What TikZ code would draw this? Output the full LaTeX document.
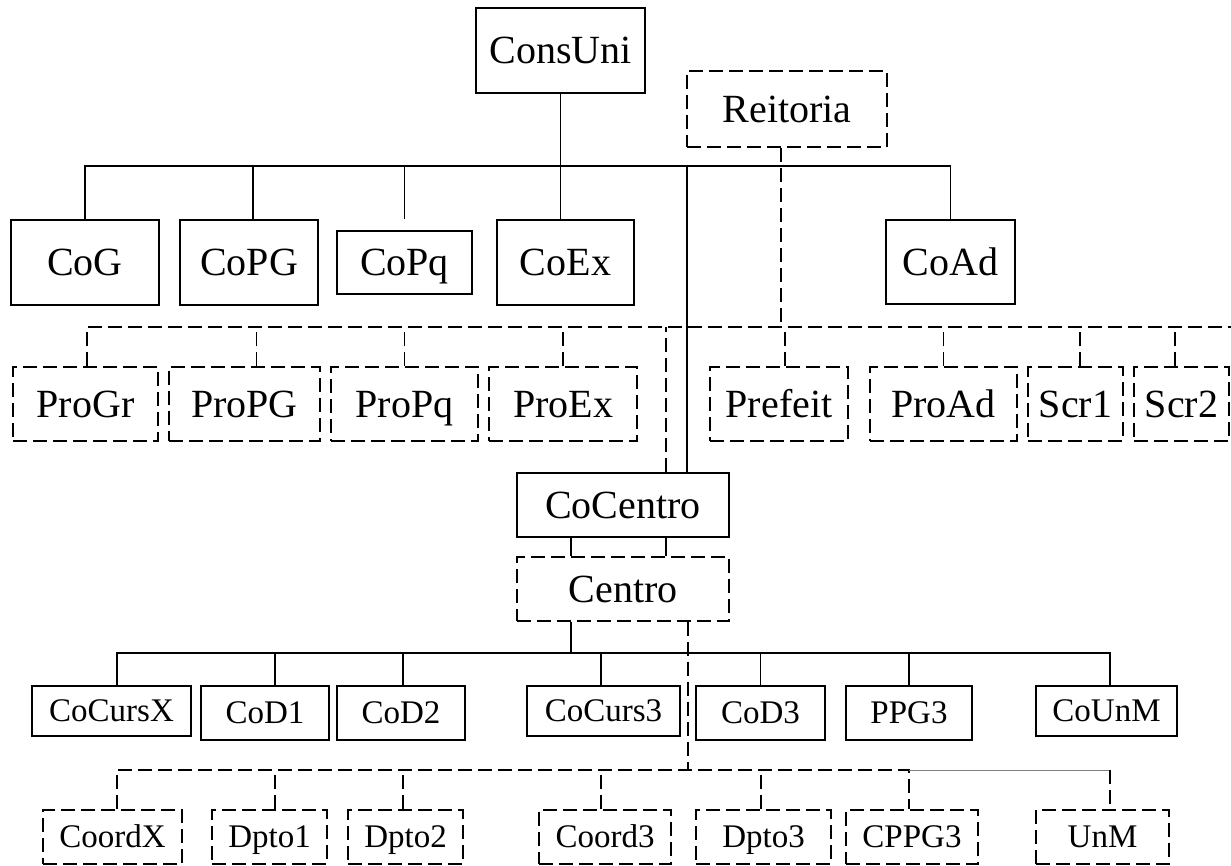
\documentclass[tikz,border=0pt]{standalone}
\usepackage{fontspec}
\setmainfont{Liberation Serif}

\begin{document}
\begin{tikzpicture}[x=1pt,y=-1pt,line width=1.8pt,
                    unit/.style={draw,rectangle,inner sep=0pt,text height=26.5pt,text depth=0pt,
                                 font=\fontsize{40}{44}\selectfont},
                    office/.style={unit,dash pattern=on 14pt off 6pt},
                    sunit/.style={unit,text height=21.8pt,font=\fontsize{33}{36}\selectfont},
                    soffice/.style={office,text height=21.8pt,font=\fontsize{33}{36}\selectfont},
                    dlink/.style={dash pattern=on 14pt off 6pt}]
    \useasboundingbox (0,0) rectangle (1231,866);
    \coordinate (topbar)  at (0,166);
    \coordinate (probar)  at (0,327);
    \coordinate (proend)  at (1231,327);
    \coordinate (centbar) at (0,653);
    \coordinate (deptbar) at (0,770);

    \node [unit, minimum width=169, minimum height=85]   (consuni)  at (560.5,50.5) {ConsUni};
    \node [office, minimum width=200, minimum height=76] (reitoria) at (787,109)    {Reitoria};

    \node [unit, minimum width=148, minimum height=85] (cog)  at (85,262.5)    {CoG};
    \node [unit, minimum width=138, minimum height=85] (copg) at (249,262.5)   {CoPG};
    \node [unit, minimum width=135, minimum height=63] (copq) at (404.5,262.5) {CoPq};
    \node [unit, minimum width=137, minimum height=85] (coex) at (565.5,262.5) {CoEx};
    \node [unit, minimum width=129, minimum height=84] (coad) at (950.5,262)   {CoAd};

    \node [office, minimum width=145, minimum height=74] (progr)   at (85.5,404)   {ProGr};
    \node [office, minimum width=151, minimum height=74] (propg)   at (244.5,404)  {ProPG};
    \node [office, minimum width=147, minimum height=74] (propq)   at (404.5,404)  {ProPq};
    \node [office, minimum width=148, minimum height=74] (proex)   at (563,404)    {ProEx};
    \node [office, minimum width=138, minimum height=74] (prefeit) at (779,404)    {Prefeit};
    \node [office, minimum width=147, minimum height=74] (proad)   at (943.5,404)  {ProAd};
    \node [office, minimum width=95, minimum height=74]  (scr1)    at (1075.5,404) {Scr1};
    \node [office, minimum width=95, minimum height=74]  (scr2)    at (1181.5,404) {Scr2};

    \node [unit, minimum width=212, minimum height=64]   (cocentro) at (623,505) {CoCentro};
    \node [office, minimum width=212, minimum height=64] (centro)   at (623,589) {Centro};

    \node [sunit, minimum width=159, minimum height=50] (cocursx) at (111.5,711)  {CoCursX};
    \node [sunit, minimum width=128, minimum height=54] (cod1)    at (265,713)    {CoD1};
    \node [sunit, minimum width=128, minimum height=54] (cod2)    at (401,713)    {CoD2};
    \node [sunit, minimum width=153, minimum height=50] (cocurs3) at (603.5,711)  {CoCurs3};
    \node [sunit, minimum width=129, minimum height=54] (cod3)    at (760.5,713)  {CoD3};
    \node [sunit, minimum width=126, minimum height=54] (ppg3)    at (909,713)    {PPG3};
    \node [sunit, minimum width=141, minimum height=50] (counm)   at (1106.5,711) {CoUnM};

    \node [soffice, minimum width=139, minimum height=54] (coordx) at (112.5,837)  {CoordX};
    \node [soffice, minimum width=115, minimum height=54] (dpto1)  at (269.5,837)  {Dpto1};
    \node [soffice, minimum width=115, minimum height=54] (dpto2)  at (405.5,837)  {Dpto2};
    \node [soffice, minimum width=132, minimum height=54] (coord3) at (605,837)    {Coord3};
    \node [soffice, minimum width=135, minimum height=54] (dpto3)  at (763.5,837)  {Dpto3};
    \node [soffice, minimum width=132, minimum height=54] (cppg3)  at (912,837)    {CPPG3};
    \node [soffice, minimum width=133, minimum height=54] (unm)    at (1102.5,837) {UnM};

    \draw (consuni.south) -- (consuni.south |- coex.north);
    \draw (cog.north) |- (coad.north |- topbar) -- (coad.north);
    \draw ([xshift=4]copg.north) -- ([xshift=4]copg.north |- topbar);
    \draw ([yshift=11]copq.north) -- (copq.north |- topbar);
    \draw ([xshift=64]cocentro.north) -- ([xshift=64]cocentro.north |- topbar);

    \draw [dlink] ([xshift=-6]reitoria.south) -- ([xshift=-6]reitoria.south |- probar);
    \draw [dlink] ([xshift=1.5]progr.north) |- (proend);
    \draw [dlink] ([xshift=12]propg.north) -- ([xshift=12]propg.north |- probar);
    \draw [dlink] (propq.north) -- (propq.north |- probar);
    \draw [dlink] (proex.north) -- (proex.north |- probar);
    \draw [dlink] ([xshift=6]prefeit.north) -- ([xshift=6]prefeit.north |- probar);
    \draw [dlink] (proad.north) -- (proad.north |- probar);
    \draw [dlink] ([xshift=4.5]scr1.north) -- ([xshift=4.5]scr1.north |- probar);
    \draw [dlink] ([xshift=-6.5]scr2.north) -- ([xshift=-6.5]scr2.north |- probar);
    \draw [dlink] ([xshift=43]cocentro.north) -- ([xshift=43]cocentro.north |- probar);

    \draw ([xshift=-52]cocentro.south) -- ([xshift=-52]centro.north);
    \draw ([xshift=43]cocentro.south) -- ([xshift=43]centro.north);
    \draw ([xshift=-52]centro.south) -- ([xshift=-52]centro.south |- centbar);
    \draw ([xshift=5.5]cocursx.north) |- ([xshift=3.5]counm.north |- centbar) -- ([xshift=3.5]counm.north);
    \draw ([xshift=10]cod1.north) -- ([xshift=10]cod1.north |- centbar);
    \draw ([xshift=2]cod2.north) -- ([xshift=2]cod2.north |- centbar);
    \draw ([xshift=-2.5]cocurs3.north) -- ([xshift=-2.5]cocurs3.north |- centbar);
    \draw (cod3.north) -- (cod3.north |- centbar);
    \draw (ppg3.north) -- (ppg3.north |- centbar);

    \draw [dlink] ([xshift=65]centro.south) -- ([xshift=65]centro.south |- deptbar);
    \draw [dlink] ([xshift=4.5]coordx.north) |- ([xshift=-3]cppg3.north |- deptbar) -- ([xshift=-3]cppg3.north);
    \draw [gray, line width=1pt] ([xshift=-3]cppg3.north |- deptbar) -- ([xshift=7.5]unm.north |- deptbar);
    \draw [dlink] ([xshift=7.5]unm.north |- deptbar) -- ([xshift=7.5]unm.north);
    \draw [dlink] ([xshift=5.5]dpto1.north) -- ([xshift=5.5]dpto1.north |- deptbar);
    \draw [dlink] ([xshift=-2.5]dpto2.north) -- ([xshift=-2.5]dpto2.north |- deptbar);
    \draw [dlink] ([xshift=-4]coord3.north) -- ([xshift=-4]coord3.north |- deptbar);
    \draw [dlink] ([xshift=-2.5]dpto3.north) -- ([xshift=-2.5]dpto3.north |- deptbar);
\end{tikzpicture}
\end{document}
